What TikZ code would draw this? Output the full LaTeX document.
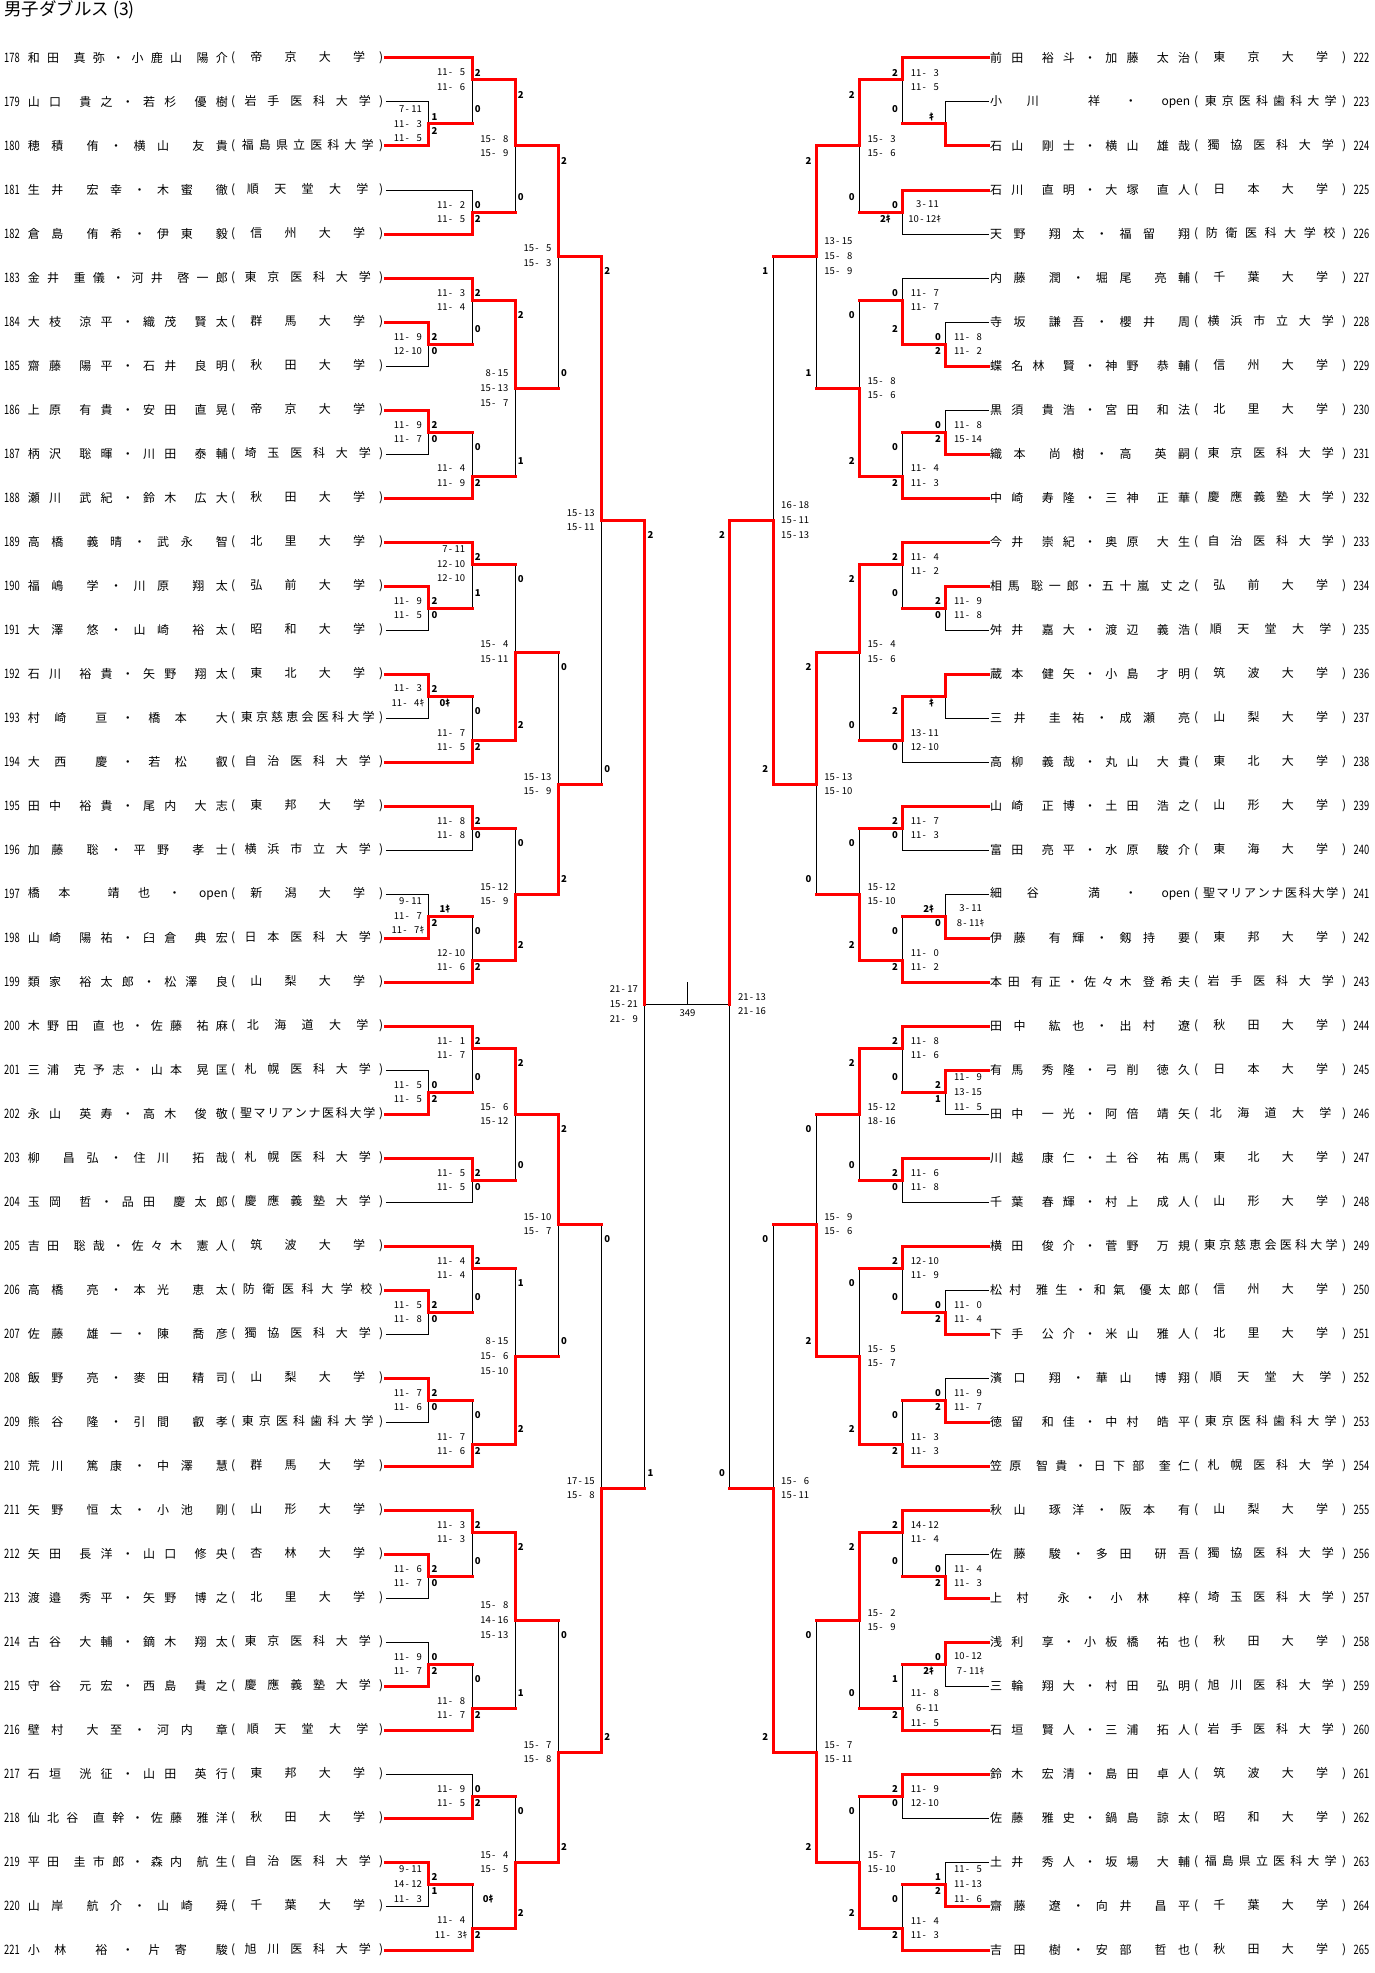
\documentclass[tikz,border=0pt]{standalone}
\usepackage{fontspec}
\setmainfont{Noto Sans CJK JP}
\newfontfamily\numfont{Noto Sans CJK JP}[FakeStretch=0.72]
\pgfdeclarelayer{front}
\pgfsetlayers{main,front}
\newcommand\spreadend{\relax spreadend}
\newcommand\spreadname[2]{\makebox[#1][s]{\spreadfirst#2\spreadend}}
\def\spreadfirst#1{#1\spreadnext}
\def\spreadnext#1{\ifx\spreadend#1\else\ifx|#1\hfil\else\hfil#1\fi\expandafter\spreadnext\fi}
\newcommand\spreadschool[2]{\makebox[#1][s]{\spreadeach#2\spreadend}}
\def\spreadeach#1{\ifx\spreadend#1\else\hfil#1\hfil\expandafter\spreadeach\fi}
\newcommand\gsc[2]{\makebox[11.6pt][r]{#1}\makebox[5.8pt]{-}\makebox[11.6pt][r]{#2}}
\newcommand\lk[1]{\hspace*{8pt}#1ｷ}
\newcommand\rk[1]{#1ｷ\hspace*{7.2pt}}
\newcommand\segw[2]{\begin{pgfonlayer}{front}\draw[won] (#1) -- (#1 -| #2) -- (#2);\end{pgfonlayer}}
\newcommand\segl[2]{\draw[lost] (#1) -- (#1 -| #2) -- (#2);}
\newcommand\segm[2]{\begin{pgfonlayer}{front}\draw[won] (#1) -- (#1 -| #2);\end{pgfonlayer}\draw[lost] (#1 -| #2) -- (#2);}
\newcommand\bout[7]{\coordinate (#1) at (#2,#3);\csname seg#6\endcsname{#4}{#1}\csname seg#7\endcsname{#5}{#1}}
\newcommand\lres[6]{%
  \node[cnt,anchor=west,xshift=2.4pt,yshift=-14.667pt] (#1t) at (#2 -| #1) {#4};
  \node[cnt,anchor=west,xshift=2.4pt,yshift=14.667pt] (#1b) at (#3 -| #1) {#5};
  \node[scr,xshift=-21.6pt] (#1s) at (#1) {#6};}
\newcommand\rres[6]{%
  \node[cnt,anchor=east,xshift=-4.8pt,yshift=-14.667pt] (#1t) at (#2 -| #1) {#4};
  \node[cnt,anchor=east,xshift=-4.8pt,yshift=14.667pt] (#1b) at (#3 -| #1) {#5};
  \node[scr,xshift=21.5pt] (#1s) at (#1) {#6};}
\newcommand\lent[4]{%
  \node[entno,anchor=west] (n#2) at (4,#1) {#2};
  \node[entnm,anchor=west] (a#2) at (27.7,#1) {\spreadname{200pt}{#3}};
  \node[entnm,anchor=west] (s#2) at (231,#1) {\makebox[8pt][l]{(}\spreadschool{137pt}{#4}\makebox[7pt][r]{)}};
  \coordinate (p#2) at (386,#1);}
\newcommand\rent[4]{%
  \coordinate (p#2) at (989,#1);
  \node[entnm,anchor=west] (a#2) at (990,#1) {\spreadname{200pt}{#3}};
  \node[entnm,anchor=west] (s#2) at (1194,#1) {\makebox[8pt][l]{(}\spreadschool{137pt}{#4}\makebox[7pt][r]{)}};
  \node[entno,anchor=west] (n#2) at (1353.5,#1) {#2};}
\begin{document}
\begin{tikzpicture}[x=1pt,y=-14.667pt,
  won/.style={draw=red,line width=3pt,line cap=rect},
  lost/.style={draw=black,line width=1pt},
  cnt/.style={inner sep=0pt,font=\fontsize{9.5}{11}\selectfont\bfseries},
  scr/.style={inner sep=0pt,align=center,font=\fontsize{9.5}{14.667}\selectfont},
  entnm/.style={inner sep=0pt,font=\fontsize{12}{14}\selectfont},
  entno/.style={inner sep=0pt,font=\numfont\fontsize{13}{14}\selectfont}]
\useasboundingbox (0,-3.9545) rectangle (1375,130.568);
\node[anchor=west,inner sep=0pt,font=\fontsize{17.5}{19}\selectfont] (title) at (4,-3.27) {男子ダブルス (3)};
\lent{0}{178}{和田|真弥・小鹿山|陽介}{帝京大学}
\lent{3}{179}{山口|貴之・若杉|優樹}{岩手医科大学}
\lent{6}{180}{穂積|侑・横山|友貴}{福島県立医科大学}
\lent{9}{181}{生井|宏幸・木蜜|徹}{順天堂大学}
\lent{12}{182}{倉島|侑希・伊東|毅}{信州大学}
\lent{15}{183}{金井|重儀・河井|啓一郎}{東京医科大学}
\lent{18}{184}{大枝|涼平・織茂|賢太}{群馬大学}
\lent{21}{185}{齋藤|陽平・石井|良明}{秋田大学}
\lent{24}{186}{上原|有貴・安田|直晃}{帝京大学}
\lent{27}{187}{柄沢|聡暉・川田|泰輔}{埼玉医科大学}
\lent{30}{188}{瀬川|武紀・鈴木|広大}{秋田大学}
\lent{33}{189}{高橋|義晴・武永|智}{北里大学}
\lent{36}{190}{福嶋|学・川原|翔太}{弘前大学}
\lent{39}{191}{大澤|悠・山崎|裕太}{昭和大学}
\lent{42}{192}{石川|裕貴・矢野|翔太}{東北大学}
\lent{45}{193}{村崎|亘・橋本|大}{東京慈恵会医科大学}
\lent{48}{194}{大西|慶・若松|叡}{自治医科大学}
\lent{51}{195}{田中|裕貴・尾内|大志}{東邦大学}
\lent{54}{196}{加藤|聡・平野|孝士}{横浜市立大学}
\lent{57}{197}{橋本|靖也・{open}}{新潟大学}
\lent{60}{198}{山崎|陽祐・臼倉|典宏}{日本医科大学}
\lent{63}{199}{類家|裕太郎・松澤|良}{山梨大学}
\lent{66}{200}{木野田|直也・佐藤|祐麻}{北海道大学}
\lent{69}{201}{三浦|克予志・山本|晃匡}{札幌医科大学}
\lent{72}{202}{永山|英寿・高木|俊敬}{聖マリアンナ医科大学}
\lent{75}{203}{柳|昌弘・住川|拓哉}{札幌医科大学}
\lent{78}{204}{玉岡|哲・品田|慶太郎}{慶應義塾大学}
\lent{81}{205}{吉田|聡哉・佐々木|憲人}{筑波大学}
\lent{84}{206}{高橋|亮・本光|恵太}{防衛医科大学校}
\lent{87}{207}{佐藤|雄一・陳|喬彦}{獨協医科大学}
\lent{90}{208}{飯野|亮・麥田|精司}{山梨大学}
\lent{93}{209}{熊谷|隆・引間|叡孝}{東京医科歯科大学}
\lent{96}{210}{荒川|篤康・中澤|慧}{群馬大学}
\lent{99}{211}{矢野|恒太・小池|剛}{山形大学}
\lent{102}{212}{矢田|長洋・山口|修央}{杏林大学}
\lent{105}{213}{渡邉|秀平・矢野|博之}{北里大学}
\lent{108}{214}{古谷|大輔・鏑木|翔太}{東京医科大学}
\lent{111}{215}{守谷|元宏・西島|貴之}{慶應義塾大学}
\lent{114}{216}{壁村|大至・河内|章}{順天堂大学}
\lent{117}{217}{石垣|洸征・山田|英行}{東邦大学}
\lent{120}{218}{仙北谷|直幹・佐藤|雅洋}{秋田大学}
\lent{123}{219}{平田|圭市郎・森内|航生}{自治医科大学}
\lent{126}{220}{山岸|航介・山崎|舜}{千葉大学}
\lent{129}{221}{小林|裕・片寄|駿}{旭川医科大学}
\rent{0}{222}{前田|裕斗・加藤|太治}{東京大学}
\rent{3}{223}{小川|祥・{open}}{東京医科歯科大学}
\rent{6}{224}{石山|剛士・横山|雄哉}{獨協医科大学}
\rent{9}{225}{石川|直明・大塚|直人}{日本大学}
\rent{12}{226}{天野|翔太・福留|翔}{防衛医科大学校}
\rent{15}{227}{内藤|潤・堀尾|亮輔}{千葉大学}
\rent{18}{228}{寺坂|謙吾・櫻井|周}{横浜市立大学}
\rent{21}{229}{蝶名林|賢・神野|恭輔}{信州大学}
\rent{24}{230}{黒須|貴浩・宮田|和法}{北里大学}
\rent{27}{231}{織本|尚樹・高|英嗣}{東京医科大学}
\rent{30}{232}{中崎|寿隆・三神|正華}{慶應義塾大学}
\rent{33}{233}{今井|崇紀・奥原|大生}{自治医科大学}
\rent{36}{234}{相馬|聡一郎・五十嵐|丈之}{弘前大学}
\rent{39}{235}{舛井|嘉大・渡辺|義浩}{順天堂大学}
\rent{42}{236}{蔵本|健矢・小島|才明}{筑波大学}
\rent{45}{237}{三井|圭祐・成瀬|亮}{山梨大学}
\rent{48}{238}{高柳|義哉・丸山|大貴}{東北大学}
\rent{51}{239}{山崎|正博・土田|浩之}{山形大学}
\rent{54}{240}{富田|亮平・水原|駿介}{東海大学}
\rent{57}{241}{細谷|満・{open}}{聖マリアンナ医科大学}
\rent{60}{242}{伊藤|有輝・剱持|要}{東邦大学}
\rent{63}{243}{本田|有正・佐々木|登希夫}{岩手医科大学}
\rent{66}{244}{田中|紘也・出村|遼}{秋田大学}
\rent{69}{245}{有馬|秀隆・弓削|徳久}{日本大学}
\rent{72}{246}{田中|一光・阿倍|靖矢}{北海道大学}
\rent{75}{247}{川越|康仁・土谷|祐馬}{東北大学}
\rent{78}{248}{千葉|春輝・村上|成人}{山形大学}
\rent{81}{249}{横田|俊介・菅野|万規}{東京慈恵会医科大学}
\rent{84}{250}{松村|雅生・和氣|優太郎}{信州大学}
\rent{87}{251}{下手|公介・米山|雅人}{北里大学}
\rent{90}{252}{濱口|翔・華山|博翔}{順天堂大学}
\rent{93}{253}{徳留|和佳・中村|皓平}{東京医科歯科大学}
\rent{96}{254}{笠原|智貴・日下部|奎仁}{札幌医科大学}
\rent{99}{255}{秋山|琢洋・阪本|有}{山梨大学}
\rent{102}{256}{佐藤|駿・多田|研吾}{獨協医科大学}
\rent{105}{257}{上村|永・小林|梓}{埼玉医科大学}
\rent{108}{258}{浅利|享・小板橋|祐也}{秋田大学}
\rent{111}{259}{三輪|翔大・村田|弘明}{旭川医科大学}
\rent{114}{260}{石垣|賢人・三浦|拓人}{岩手医科大学}
\rent{117}{261}{鈴木|宏清・島田|卓人}{筑波大学}
\rent{120}{262}{佐藤|雅史・鍋島|諒太}{昭和大学}
\rent{123}{263}{土井|秀人・坂場|大輔}{福島県立医科大学}
\rent{126}{264}{齋藤|遼・向井|昌平}{千葉大学}
\rent{129}{265}{吉田|樹・安部|哲也}{秋田大学}
\bout{A1}{429}{4.5}{p179}{p180}{l}{w}
\lres{A1}{p179}{p180}{1}{2}{\gsc{7}{11}\\\gsc{11}{3}\\\gsc{11}{5}}
\bout{A2}{472.2}{1.5}{p178}{A1}{w}{m}
\lres{A2}{p178}{A1}{2}{0}{\gsc{11}{5}\\\gsc{11}{6}}
\bout{A3}{472.2}{10.5}{p181}{p182}{l}{w}
\lres{A3}{p181}{p182}{0}{2}{\gsc{11}{2}\\\gsc{11}{5}}
\bout{A4}{515.4}{6}{A2}{A3}{w}{m}
\lres{A4}{A2}{A3}{2}{0}{\gsc{15}{8}\\\gsc{15}{9}}
\bout{A5}{429}{19.5}{p184}{p185}{w}{l}
\lres{A5}{p184}{p185}{2}{0}{\gsc{11}{9}\\\gsc{12}{10}}
\bout{A6}{472.2}{16.5}{p183}{A5}{w}{m}
\lres{A6}{p183}{A5}{2}{0}{\gsc{11}{3}\\\gsc{11}{4}}
\bout{A7}{429}{25.5}{p186}{p187}{w}{l}
\lres{A7}{p186}{p187}{2}{0}{\gsc{11}{9}\\\gsc{11}{7}}
\bout{A8}{472.2}{28.5}{A7}{p188}{m}{w}
\lres{A8}{A7}{p188}{0}{2}{\gsc{11}{4}\\\gsc{11}{9}}
\bout{A9}{515.4}{22.5}{A6}{A8}{w}{m}
\lres{A9}{A6}{A8}{2}{1}{\gsc{8}{15}\\\gsc{15}{13}\\\gsc{15}{7}}
\bout{A10}{558.6}{13.5}{A4}{A9}{w}{m}
\lres{A10}{A4}{A9}{2}{0}{\gsc{15}{5}\\\gsc{15}{3}}
\bout{B1}{429}{37.5}{p190}{p191}{w}{l}
\lres{B1}{p190}{p191}{2}{0}{\gsc{11}{9}\\\gsc{11}{5}}
\bout{B2}{472.2}{34.5}{p189}{B1}{w}{m}
\lres{B2}{p189}{B1}{2}{1}{\gsc{7}{11}\\\gsc{12}{10}\\\gsc{12}{10}}
\bout{B3}{429}{43.5}{p192}{p193}{w}{l}
\lres{B3}{p192}{p193}{2}{\lk{0}}{\gsc{11}{3}\\\gsc{11}{4}ｷ}
\bout{B4}{472.2}{46.5}{B3}{p194}{m}{w}
\lres{B4}{B3}{p194}{0}{2}{\gsc{11}{7}\\\gsc{11}{5}}
\bout{B5}{515.4}{40.5}{B2}{B4}{m}{w}
\lres{B5}{B2}{B4}{0}{2}{\gsc{15}{4}\\\gsc{15}{11}}
\bout{B6}{472.2}{52.5}{p195}{p196}{w}{l}
\lres{B6}{p195}{p196}{2}{0}{\gsc{11}{8}\\\gsc{11}{8}}
\bout{B7}{429}{58.5}{p197}{p198}{l}{w}
\lres{B7}{p197}{p198}{\lk{1}}{2}{\gsc{9}{11}\\\gsc{11}{7}\\\gsc{11}{7}ｷ}
\bout{B8}{472.2}{61.5}{B7}{p199}{m}{w}
\lres{B8}{B7}{p199}{0}{2}{\gsc{12}{10}\\\gsc{11}{6}}
\bout{B9}{515.4}{57}{B6}{B8}{m}{w}
\lres{B9}{B6}{B8}{0}{2}{\gsc{15}{12}\\\gsc{15}{9}}
\bout{B10}{558.6}{49.5}{B5}{B9}{m}{w}
\lres{B10}{B5}{B9}{0}{2}{\gsc{15}{13}\\\gsc{15}{9}}
\bout{H1}{601.8}{31.5}{A10}{B10}{w}{m}
\lres{H1}{A10}{B10}{2}{0}{\gsc{15}{13}\\\gsc{15}{11}}
\bout{C1}{429}{70.5}{p201}{p202}{l}{w}
\lres{C1}{p201}{p202}{0}{2}{\gsc{11}{5}\\\gsc{11}{5}}
\bout{C2}{472.2}{67.5}{p200}{C1}{w}{m}
\lres{C2}{p200}{C1}{2}{0}{\gsc{11}{1}\\\gsc{11}{7}}
\bout{C3}{472.2}{76.5}{p203}{p204}{w}{l}
\lres{C3}{p203}{p204}{2}{0}{\gsc{11}{5}\\\gsc{11}{5}}
\bout{C4}{515.4}{72}{C2}{C3}{w}{m}
\lres{C4}{C2}{C3}{2}{0}{\gsc{15}{6}\\\gsc{15}{12}}
\bout{C5}{429}{85.5}{p206}{p207}{w}{l}
\lres{C5}{p206}{p207}{2}{0}{\gsc{11}{5}\\\gsc{11}{8}}
\bout{C6}{472.2}{82.5}{p205}{C5}{w}{m}
\lres{C6}{p205}{C5}{2}{0}{\gsc{11}{4}\\\gsc{11}{4}}
\bout{C7}{429}{91.5}{p208}{p209}{w}{l}
\lres{C7}{p208}{p209}{2}{0}{\gsc{11}{7}\\\gsc{11}{6}}
\bout{C8}{472.2}{94.5}{C7}{p210}{m}{w}
\lres{C8}{C7}{p210}{0}{2}{\gsc{11}{7}\\\gsc{11}{6}}
\bout{C9}{515.4}{88.5}{C6}{C8}{m}{w}
\lres{C9}{C6}{C8}{1}{2}{\gsc{8}{15}\\\gsc{15}{6}\\\gsc{15}{10}}
\bout{C10}{558.6}{79.5}{C4}{C9}{w}{m}
\lres{C10}{C4}{C9}{2}{0}{\gsc{15}{10}\\\gsc{15}{7}}
\bout{D1}{429}{103.5}{p212}{p213}{w}{l}
\lres{D1}{p212}{p213}{2}{0}{\gsc{11}{6}\\\gsc{11}{7}}
\bout{D2}{472.2}{100.5}{p211}{D1}{w}{m}
\lres{D2}{p211}{D1}{2}{0}{\gsc{11}{3}\\\gsc{11}{3}}
\bout{D3}{429}{109.5}{p214}{p215}{l}{w}
\lres{D3}{p214}{p215}{0}{2}{\gsc{11}{9}\\\gsc{11}{7}}
\bout{D4}{472.2}{112.5}{D3}{p216}{m}{w}
\lres{D4}{D3}{p216}{0}{2}{\gsc{11}{8}\\\gsc{11}{7}}
\bout{D5}{515.4}{106.5}{D2}{D4}{w}{m}
\lres{D5}{D2}{D4}{2}{1}{\gsc{15}{8}\\\gsc{14}{16}\\\gsc{15}{13}}
\bout{D6}{472.2}{118.5}{p217}{p218}{l}{w}
\lres{D6}{p217}{p218}{0}{2}{\gsc{11}{9}\\\gsc{11}{5}}
\bout{D7}{429}{124.5}{p219}{p220}{w}{l}
\lres{D7}{p219}{p220}{2}{1}{\gsc{9}{11}\\\gsc{14}{12}\\\gsc{11}{3}}
\bout{D8}{472.2}{127.5}{D7}{p221}{m}{w}
\lres{D8}{D7}{p221}{\lk{0}}{2}{\gsc{11}{4}\\\gsc{11}{3}ｷ}
\bout{D9}{515.4}{123}{D6}{D8}{m}{w}
\lres{D9}{D6}{D8}{0}{2}{\gsc{15}{4}\\\gsc{15}{5}}
\bout{D10}{558.6}{115.5}{D5}{D9}{m}{w}
\lres{D10}{D5}{D9}{0}{2}{\gsc{15}{7}\\\gsc{15}{8}}
\bout{H2}{601.8}{97.5}{C10}{D10}{m}{w}
\lres{H2}{C10}{D10}{0}{2}{\gsc{17}{15}\\\gsc{15}{8}}
\bout{LF}{645}{64.5}{H1}{H2}{w}{m}
\lres{LF}{H1}{H2}{2}{1}{\gsc{21}{17}\\\gsc{15}{21}\\\gsc{21}{9}}
\bout{E1}{946}{4.5}{p223}{p224}{l}{w}
\rres{E1}{p223}{p224}{\rk{}}{}{}
\bout{E2}{902.8}{1.5}{p222}{E1}{w}{m}
\rres{E2}{p222}{E1}{2}{0}{\gsc{11}{3}\\\gsc{11}{5}}
\bout{E3}{902.8}{10.5}{p225}{p226}{w}{l}
\rres{E3}{p225}{p226}{0}{\rk{2}}{\gsc{3}{11}\\\gsc{10}{12}ｷ}
\bout{E4}{859.6}{6}{E2}{E3}{w}{m}
\rres{E4}{E2}{E3}{2}{0}{\gsc{15}{3}\\\gsc{15}{6}}
\bout{E5}{946}{19.5}{p228}{p229}{l}{w}
\rres{E5}{p228}{p229}{0}{2}{\gsc{11}{8}\\\gsc{11}{2}}
\bout{E6}{902.8}{16.5}{p227}{E5}{l}{w}
\rres{E6}{p227}{E5}{0}{2}{\gsc{11}{7}\\\gsc{11}{7}}
\bout{E7}{946}{25.5}{p230}{p231}{l}{w}
\rres{E7}{p230}{p231}{0}{2}{\gsc{11}{8}\\\gsc{15}{14}}
\bout{E8}{902.8}{28.5}{E7}{p232}{m}{w}
\rres{E8}{E7}{p232}{0}{2}{\gsc{11}{4}\\\gsc{11}{3}}
\bout{E9}{859.6}{22.5}{E6}{E8}{m}{w}
\rres{E9}{E6}{E8}{0}{2}{\gsc{15}{8}\\\gsc{15}{6}}
\bout{E10}{816.4}{13.5}{E4}{E9}{w}{m}
\rres{E10}{E4}{E9}{2}{1}{\gsc{13}{15}\\\gsc{15}{8}\\\gsc{15}{9}}
\bout{F1}{946}{37.5}{p234}{p235}{w}{l}
\rres{F1}{p234}{p235}{2}{0}{\gsc{11}{9}\\\gsc{11}{8}}
\bout{F2}{902.8}{34.5}{p233}{F1}{w}{m}
\rres{F2}{p233}{F1}{2}{0}{\gsc{11}{4}\\\gsc{11}{2}}
\bout{F3}{946}{43.5}{p236}{p237}{w}{l}
\rres{F3}{p236}{p237}{}{\rk{}}{}
\bout{F4}{902.8}{46.5}{F3}{p238}{w}{l}
\rres{F4}{F3}{p238}{2}{0}{\gsc{13}{11}\\\gsc{12}{10}}
\bout{F5}{859.6}{40.5}{F2}{F4}{w}{m}
\rres{F5}{F2}{F4}{2}{0}{\gsc{15}{4}\\\gsc{15}{6}}
\bout{F6}{902.8}{52.5}{p239}{p240}{w}{l}
\rres{F6}{p239}{p240}{2}{0}{\gsc{11}{7}\\\gsc{11}{3}}
\bout{F7}{946}{58.5}{p241}{p242}{l}{w}
\rres{F7}{p241}{p242}{\rk{2}}{0}{\gsc{3}{11}\\\gsc{8}{11}ｷ}
\bout{F8}{902.8}{61.5}{F7}{p243}{m}{w}
\rres{F8}{F7}{p243}{0}{2}{\gsc{11}{0}\\\gsc{11}{2}}
\bout{F9}{859.6}{57}{F6}{F8}{m}{w}
\rres{F9}{F6}{F8}{0}{2}{\gsc{15}{12}\\\gsc{15}{10}}
\bout{F10}{816.4}{49.5}{F5}{F9}{w}{m}
\rres{F10}{F5}{F9}{2}{0}{\gsc{15}{13}\\\gsc{15}{10}}
\bout{G1}{773.2}{31.5}{E10}{F10}{m}{w}
\rres{G1}{E10}{F10}{1}{2}{\gsc{16}{18}\\\gsc{15}{11}\\\gsc{15}{13}}
\bout{J1}{946}{70.5}{p245}{p246}{w}{l}
\rres{J1}{p245}{p246}{2}{1}{\gsc{11}{9}\\\gsc{13}{15}\\\gsc{11}{5}}
\bout{J2}{902.8}{67.5}{p244}{J1}{w}{m}
\rres{J2}{p244}{J1}{2}{0}{\gsc{11}{8}\\\gsc{11}{6}}
\bout{J3}{902.8}{76.5}{p247}{p248}{w}{l}
\rres{J3}{p247}{p248}{2}{0}{\gsc{11}{6}\\\gsc{11}{8}}
\bout{J4}{859.6}{72}{J2}{J3}{w}{m}
\rres{J4}{J2}{J3}{2}{0}{\gsc{15}{12}\\\gsc{18}{16}}
\bout{J5}{946}{85.5}{p250}{p251}{l}{w}
\rres{J5}{p250}{p251}{0}{2}{\gsc{11}{0}\\\gsc{11}{4}}
\bout{J6}{902.8}{82.5}{p249}{J5}{w}{m}
\rres{J6}{p249}{J5}{2}{0}{\gsc{12}{10}\\\gsc{11}{9}}
\bout{J7}{946}{91.5}{p252}{p253}{l}{w}
\rres{J7}{p252}{p253}{0}{2}{\gsc{11}{9}\\\gsc{11}{7}}
\bout{J8}{902.8}{94.5}{J7}{p254}{m}{w}
\rres{J8}{J7}{p254}{0}{2}{\gsc{11}{3}\\\gsc{11}{3}}
\bout{J9}{859.6}{88.5}{J6}{J8}{m}{w}
\rres{J9}{J6}{J8}{0}{2}{\gsc{15}{5}\\\gsc{15}{7}}
\bout{J10}{816.4}{79.5}{J4}{J9}{m}{w}
\rres{J10}{J4}{J9}{0}{2}{\gsc{15}{9}\\\gsc{15}{6}}
\bout{K1}{946}{103.5}{p256}{p257}{l}{w}
\rres{K1}{p256}{p257}{0}{2}{\gsc{11}{4}\\\gsc{11}{3}}
\bout{K2}{902.8}{100.5}{p255}{K1}{w}{m}
\rres{K2}{p255}{K1}{2}{0}{\gsc{14}{12}\\\gsc{11}{4}}
\bout{K3}{946}{109.5}{p258}{p259}{w}{l}
\rres{K3}{p258}{p259}{0}{\rk{2}}{\gsc{10}{12}\\\gsc{7}{11}ｷ}
\bout{K4}{902.8}{112.5}{K3}{p260}{m}{w}
\rres{K4}{K3}{p260}{1}{2}{\gsc{11}{8}\\\gsc{6}{11}\\\gsc{11}{5}}
\bout{K5}{859.6}{106.5}{K2}{K4}{w}{m}
\rres{K5}{K2}{K4}{2}{0}{\gsc{15}{2}\\\gsc{15}{9}}
\bout{K6}{902.8}{118.5}{p261}{p262}{w}{l}
\rres{K6}{p261}{p262}{2}{0}{\gsc{11}{9}\\\gsc{12}{10}}
\bout{K7}{946}{124.5}{p263}{p264}{l}{w}
\rres{K7}{p263}{p264}{1}{2}{\gsc{11}{5}\\\gsc{11}{13}\\\gsc{11}{6}}
\bout{K8}{902.8}{127.5}{K7}{p265}{m}{w}
\rres{K8}{K7}{p265}{0}{2}{\gsc{11}{4}\\\gsc{11}{3}}
\bout{K9}{859.6}{123}{K6}{K8}{m}{w}
\rres{K9}{K6}{K8}{0}{2}{\gsc{15}{7}\\\gsc{15}{10}}
\bout{K10}{816.4}{115.5}{K5}{K9}{m}{w}
\rres{K10}{K5}{K9}{0}{2}{\gsc{15}{7}\\\gsc{15}{11}}
\bout{G2}{773.2}{97.5}{J10}{K10}{m}{w}
\rres{G2}{J10}{K10}{0}{2}{\gsc{15}{6}\\\gsc{15}{11}}
\bout{RF}{730}{64.5}{G1}{G2}{w}{m}
\rres{RF}{G1}{G2}{2}{0}{\gsc{21}{13}\\\gsc{21}{16}}
\coordinate (fin) at (687.5,64.5);
\coordinate (fintop) at (687.5,63);
\draw[lost] (LF) -- (fin) -- (RF);
\draw[lost] (fin) -- (fintop);
\node[scr] (no349) at (687.5,65.1) {349};
\end{tikzpicture}
\end{document}
